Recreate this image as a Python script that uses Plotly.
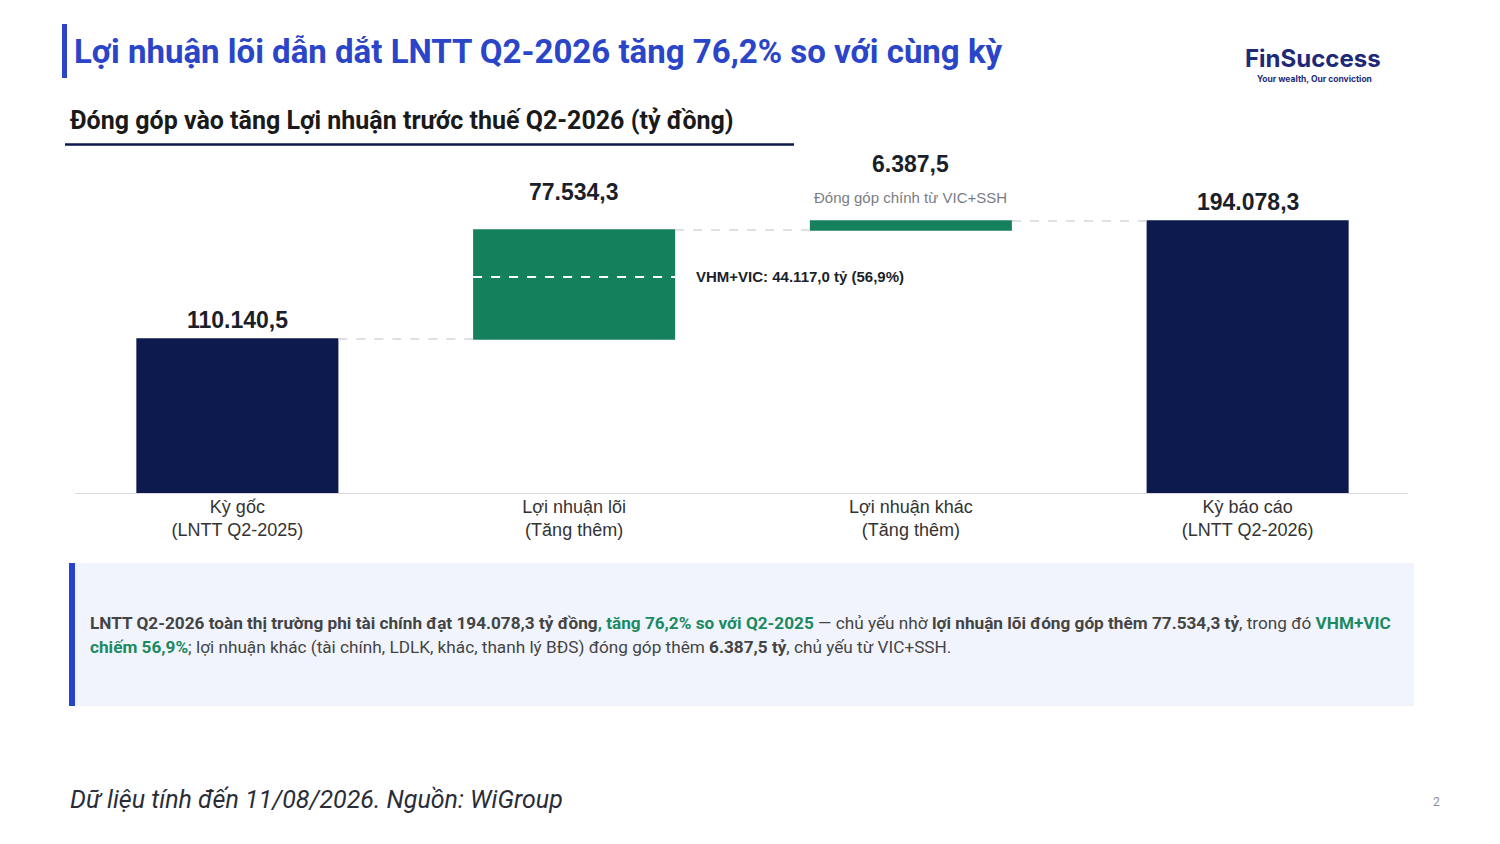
import plotly.graph_objects as go

# ---------------- data ----------------
categories = ["Kỳ gốc<br>(LNTT Q2-2025)", "Lợi nhuận lõi<br>(Tăng thêm)",
              "Lợi nhuận khác<br>(Tăng thêm)", "Kỳ báo cáo<br>(LNTT Q2-2026)"]
measures = ["absolute", "relative", "relative", "total"]
values = [110140.5, 77534.3, 6387.5, 194078.3]
vhm_vic_value = 44117.0
vhm_vic_share = 56.9
notes = ["", "", "Đóng góp chính từ VIC+SSH", ""]

NAVY = "#0C1A4E"
GREEN = "#15805C"
W, H = 1500, 844
OX, OY = 8, 8  # page offset of the figure in the browser
L = 69 - OX
T = 150 - OY
PW, PH = 1347, 344
R = W - L - PW
B = H - T - PH


def px(x):
    return (x - OX - L) / PW


def py(y):
    return (T + PH - (y - OY)) / PH


def vn(v):
    s = f"{v:,.1f}"
    return s.replace(",", "X").replace(".", ",").replace("X", ".")


fig = go.Figure()
fig.add_trace(go.Waterfall(
    x=categories, y=values, measure=measures, width=0.6,
    increasing=dict(marker=dict(color=GREEN)),
    decreasing=dict(marker=dict(color="#c0392b")),
    totals=dict(marker=dict(color=NAVY)),
    connector=dict(line=dict(color="#d3d6dc", dash="dash", width=1.5)),
    textinfo="none", hoverinfo="skip", showlegend=False,
))

# cumulative tops for labels
tops = []
run = 0
for m, v in zip(measures, values):
    if m in ("absolute", "total"):
        run = v
    else:
        run += v
    tops.append(run)

label_shift = [19, 38, 57, 19]
annotations = []
for i, (v, t) in enumerate(zip(values, tops)):
    annotations.append(dict(
        x=i, y=t, xref="x", yref="y", text=f"<b>{vn(v)}</b>", showarrow=False,
        yshift=label_shift[i], yanchor="middle",
        font=dict(family="Liberation Sans, Arial", size=23, color="#1b1f2a")))
    if notes[i]:
        annotations.append(dict(
            x=i, y=t, xref="x", yref="y", text=notes[i], showarrow=False,
            yshift=23, yanchor="middle",
            font=dict(family="Liberation Sans, Arial", size=15, color="#7a7d85")))

# VHM+VIC split line inside core-profit bar
split_y = values[0] + vhm_vic_value
shapes = [dict(type="line", xref="x", yref="y", x0=0.7, x1=1.3, y0=split_y, y1=split_y,
               line=dict(color="white", width=2, dash="dash"))]
annotations.append(dict(
    x=1.3, y=split_y, xref="x", yref="y", xanchor="left", yanchor="middle", xshift=19,
    text=f"<b>VHM+VIC: {vn(vhm_vic_value)} tỷ ({vn(vhm_vic_share)}%)</b>", showarrow=False,
    font=dict(family="Liberation Sans, Arial", size=15, color="#1b1f2a")))

# baseline
shapes.append(dict(type="line", xref="paper", yref="y", x0=px(75), x1=px(1408), y0=0, y1=0,
                   line=dict(color="#d5d8de", width=2)))

# ---------------- page decoration ----------------
shapes.append(dict(type="rect", xref="paper", yref="paper", x0=px(62), x1=px(67), y0=py(78), y1=py(24),
                   fillcolor="#2B45C8", line=dict(width=0)))
annotations.append(dict(xref="paper", yref="paper", x=px(72), y=py(52), xanchor="left", yanchor="middle",
                        text="<b>Lợi nhuận lõi dẫn dắt LNTT Q2-2026 tăng 76,2% so với cùng kỳ</b>",
                        showarrow=False, font=dict(family="Roboto", size=33, color="#2B45C8")))
annotations.append(dict(xref="paper", yref="paper", x=px(68), y=py(120), xanchor="left", yanchor="middle",
                        text="<b>Đóng góp vào tăng Lợi nhuận trước thuế Q2-2026 (tỷ đồng)</b>",
                        showarrow=False, font=dict(family="Roboto", size=25, color="#1a1a1a")))
shapes.append(dict(type="line", xref="paper", yref="paper", x0=px(65), x1=px(794), y0=py(144.5), y1=py(144.5),
                   line=dict(color="#0C1A4E", width=2.5)))
# logo
annotations.append(dict(xref="paper", yref="paper", x=px(1313), y=py(59), xanchor="center", yanchor="middle",
                        text="<b>Fin<span style='color:#1E2A78'>Success</span></b>", showarrow=False,
                        font=dict(family="Inter", size=24, color="#1E2A78")))
annotations.append(dict(xref="paper", yref="paper", x=px(1314), y=py(79), xanchor="center", yanchor="middle",
                        text="<b>Your wealth, Our conviction</b>", showarrow=False,
                        font=dict(family="Inter", size=8.5, color="#1E2A78")))

# summary box
shapes.append(dict(type="rect", xref="paper", yref="paper", x0=px(69), x1=px(1414), y0=py(706), y1=py(563),
                   fillcolor="#F1F4FD", line=dict(width=0), layer="below"))
shapes.append(dict(type="rect", xref="paper", yref="paper", x0=px(69), x1=px(75), y0=py(706), y1=py(563),
                   fillcolor="#2444CC", line=dict(width=0)))
TG = "#1B8A62"
line1 = (f"<b>LNTT Q2-2026 toàn thị trường phi tài chính đạt {vn(values[3])} tỷ đồng</b>"
         f"<span style='color:{TG}'><b>, tăng 76,2% so với Q2-2025</b></span>"
         f" — chủ yếu nhờ <b>lợi nhuận lõi đóng góp thêm {vn(values[1])} tỷ</b>, trong đó "
         f"<span style='color:{TG}'><b>VHM+VIC</b></span>")
line2 = (f"<span style='color:{TG}'><b>chiếm {vn(vhm_vic_share)}%</b></span>; lợi nhuận khác "
         f"(tài chính, LDLK, khác, thanh lý BĐS) đóng góp thêm <b>{vn(values[2])} tỷ</b>, chủ yếu từ VIC+SSH.")
for yy, txt in ((623, line1), (647, line2)):
    annotations.append(dict(xref="paper", yref="paper", x=px(88), y=py(yy), xanchor="left", yanchor="middle",
                            text=txt, showarrow=False, align="left",
                            font=dict(family="Roboto", size=17.2, color="#444444")))

# footer
annotations.append(dict(xref="paper", yref="paper", x=px(68), y=py(799), xanchor="left", yanchor="middle",
                        text="<i>Dữ liệu tính đến 11/08/2026. Nguồn: WiGroup</i>", showarrow=False,
                        font=dict(family="Roboto", size=25, color="#2a2d38")))
annotations.append(dict(xref="paper", yref="paper", x=px(1436), y=py(802), xanchor="center", yanchor="middle",
                        text="2", showarrow=False, font=dict(family="Roboto", size=12, color="#8a8d95")))

ymax = PH / (155 / values[0])

fig.update_layout(
    width=W, height=H, margin=dict(l=L, r=R, t=T, b=B),
    paper_bgcolor="white", plot_bgcolor="white",
    xaxis=dict(showline=False, showgrid=False, ticks="", zeroline=False,
               tickfont=dict(family="Liberation Sans, Arial", size=18, color="#333333"),
               fixedrange=True),
    yaxis=dict(range=[0, ymax], visible=False, showgrid=False, zeroline=False, fixedrange=True),
    annotations=annotations, shapes=shapes,
    showlegend=False,
)

fig.write_html("out.html")
